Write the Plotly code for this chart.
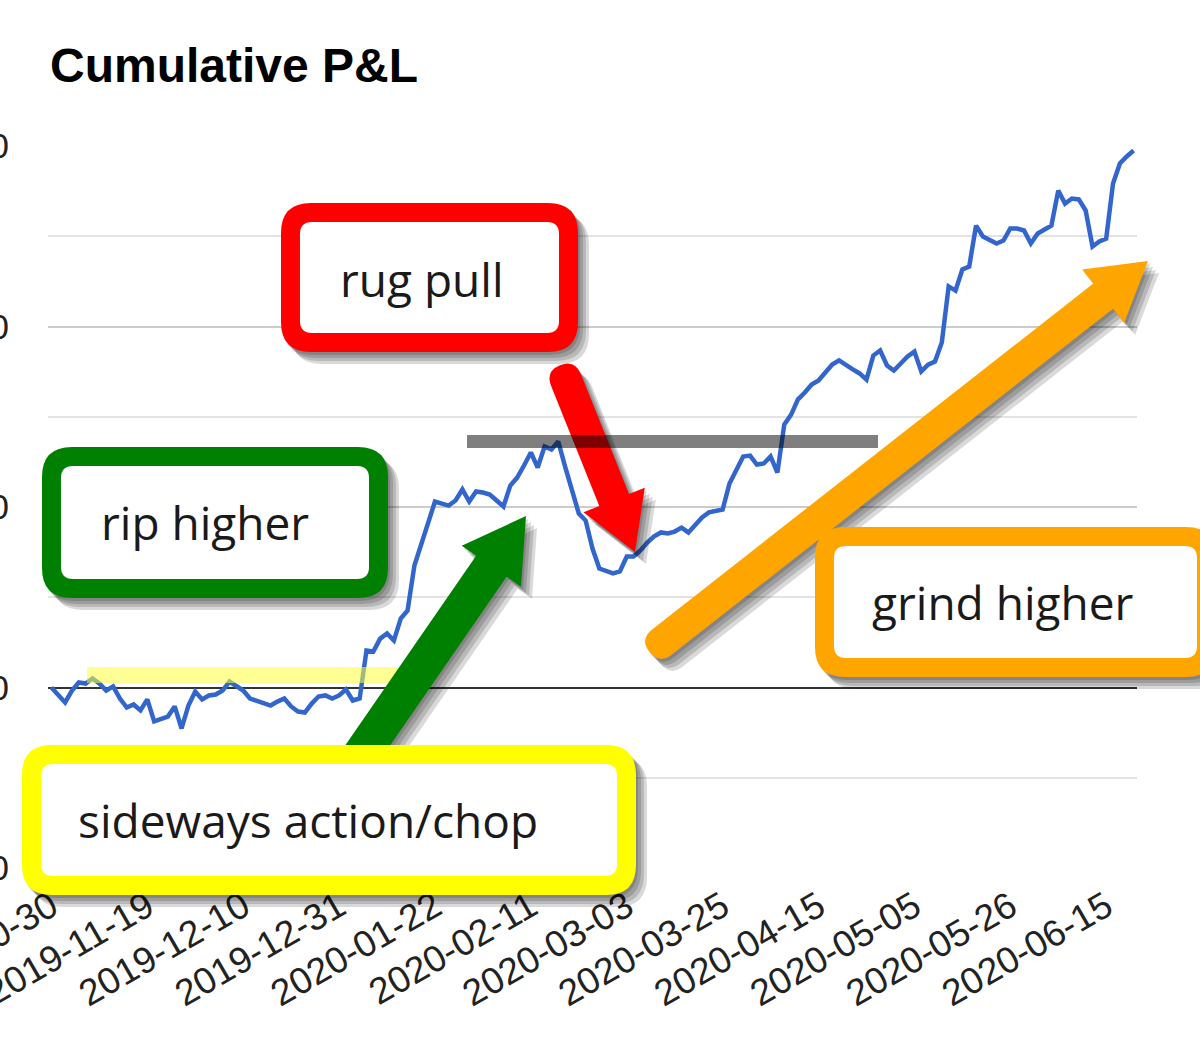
import math
import pandas as pd
import plotly.graph_objects as go

# ---------------- data ----------------
skip_days = ['2019-11-28', '2019-12-25', '2020-01-01', '2020-01-20', '2020-02-17',
             '2020-03-09', '2020-03-16', '2020-04-10', '2020-05-25']
dates = pd.bdate_range('2019-10-30', '2020-07-10', freq='C',
                       holidays=skip_days).strftime('%Y-%m-%d').tolist()[:159]

pnl = [0, -44, -83, -17, 28, 22, 50, 22, -17, 6,
       -61, -111, -94, -127, -66, -188, -172, -161, -105, -227,
       -100, -22, -66, -44, -39, -17, 33, 6, -17, -61,
       -72, -83, -100, -78, -61, -105, -133, -139, -89, -50,
       -44, -61, -44, -11, -72, -61, 205, 199, 271, 299,
       260, 382, 427, 676, 798, 909, 1030, 1019, 1008, 1036,
       1097, 1030, 1086, 1080, 1069, 1036, 1003, 1119, 1163, 1230,
       1302, 1219, 1335, 1319, 1363, 1224, 1086, 964, 925, 770,
       659, 643, 632, 643, 726, 726, 759, 803, 837, 859,
       853, 864, 886, 859, 903, 942, 970, 981, 986, 1130,
       1208, 1280, 1285, 1235, 1241, 1280, 1191, 1457, 1512, 1596,
       1634, 1679, 1701, 1745, 1789, 1812, 1784, 1762, 1740, 1706,
       1839, 1867, 1784, 1756, 1795, 1834, 1861, 1751, 1789, 1806,
       1911, 2222, 2199, 2316, 2332, 2559, 2499, 2482, 2460, 2476,
       2543, 2543, 2532, 2460, 2515, 2537, 2559, 2753, 2681, 2709,
       2704, 2643, 2443, 2471, 2487, 2792, 2903, 2942, 2975]

tick_labels = ['2019-10-30', '2019-11-19', '2019-12-10', '2019-12-31', '2020-01-22',
               '2020-02-11', '2020-03-03', '2020-03-25', '2020-04-15', '2020-05-05',
               '2020-05-26', '2020-06-15']

title_text = 'Cumulative P&L'
callouts = ['rug pull', 'rip higher', 'sideways action/chop', 'grind higher']

# ---------------- layout geometry (pixels) ----------------
W, H = 1200, 1040
L, R, T, B = 48, 1137, 146, 868


def px(x):
    return (x - L) / (R - L)


def py(y):
    return (B - y) / (B - T)


def P(x, y):
    return f'{px(x):.5f},{py(y):.5f}'


def rrect(x0, y0, x1, y1, r):
    return (f'M {P(x0 + r, y0)} L {P(x1 - r, y0)} Q {P(x1, y0)} {P(x1, y0 + r)} '
            f'L {P(x1, y1 - r)} Q {P(x1, y1)} {P(x1 - r, y1)} '
            f'L {P(x0 + r, y1)} Q {P(x0, y1)} {P(x0, y1 - r)} '
            f'L {P(x0, y0 + r)} Q {P(x0, y0)} {P(x0 + r, y0)} Z')


def arrow(S, Tp, w, hl, hw):
    dx, dy = Tp[0] - S[0], Tp[1] - S[1]
    d = math.hypot(dx, dy)
    ux, uy = dx / d, dy / d
    nx, ny = -uy, ux
    bx, by = Tp[0] - hl * ux, Tp[1] - hl * uy
    a1 = (S[0] + nx * w / 2, S[1] + ny * w / 2)
    a2 = (bx + nx * w / 2, by + ny * w / 2)
    a3 = (bx + nx * hw / 2, by + ny * hw / 2)
    a5 = (bx - nx * hw / 2, by - ny * hw / 2)
    a6 = (bx - nx * w / 2, by - ny * w / 2)
    a7 = (S[0] - nx * w / 2, S[1] - ny * w / 2)
    c1 = (a7[0] - ux * w / 2, a7[1] - uy * w / 2)
    p = (S[0] - ux * w / 2, S[1] - uy * w / 2)
    c2 = (a1[0] - ux * w / 2, a1[1] - uy * w / 2)
    pts = [a1, a2, a3, Tp, a5, a6, a7]
    s = 'M ' + ' L '.join(P(*q) for q in pts)
    s += f' Q {P(*c1)} {P(*p)} Q {P(*c2)} {P(*a1)} Z'
    return s


shapes = []


def add(path, color, shadow=True):
    if shadow:
        for k, (ox, oy) in enumerate([(2, 3), (5, 6), (8, 9), (11, 12)]):
            shapes.append(dict(type='path', xref='paper', yref='paper', layer='above',
                               path=path(ox, oy), fillcolor='rgba(0,0,0,0.15)',
                               line=dict(width=0)))
    shapes.append(dict(type='path', xref='paper', yref='paper', layer='above',
                       path=path(0, 0), fillcolor=color, line=dict(width=0)))


def box(x0, y0, x1, y1, color, bw=19):
    add(lambda ox, oy: rrect(x0 + ox, y0 + oy, x1 + ox, y1 + oy, 30), color)
    add(lambda ox, oy: rrect(x0 + bw, y0 + bw, x1 - bw, y1 - bw, 12), 'white', shadow=False)


def arr(S, Tp, w, hl, hw, color):
    add(lambda ox, oy: arrow((S[0] + ox, S[1] + oy), (Tp[0] + ox, Tp[1] + oy), w, hl, hw), color)


# yellow highlight band
shapes.append(dict(type='rect', xref='paper', yref='paper', layer='above',
                   x0=px(87), x1=px(398), y0=py(683), y1=py(667),
                   fillcolor='rgba(255,255,60,0.55)', line=dict(width=0)))
# red arrow
arr((566, 380), (635, 552), 32, 56, 66, '#ff0000')
# gray bar
shapes.append(dict(type='rect', xref='paper', yref='paper', layer='above',
                   x0=px(467), x1=px(878), y0=py(448), y1=py(435),
                   fillcolor='rgba(0,0,0,0.5)', line=dict(width=0)))
# red box
box(281, 203, 578, 352, '#ff0000')
# green arrow
arr((330, 800), (526, 516), 37, 61, 72, '#008000')
# green box
box(42, 447, 388, 598, '#008000')
# yellow box
box(22, 745, 636, 895, '#ffff00')
# orange arrow
arr((662, 642), (1148, 261), 32, 57, 68, '#ffa500')
# orange box
box(815, 527, 1216, 677, '#ffa500')

annotations = [
    dict(text='<b>' + title_text + '</b>', xref='paper', yref='paper', x=px(48), y=py(66),
         xanchor='left', yanchor='middle', showarrow=False,
         font=dict(family='Liberation Sans, Arial', size=48, color='#000000')),
]
text_pos = [(422, 279), (205, 522), (308, 820), (1003, 602)]
for t, (cx, cy) in zip(callouts, text_pos):
    annotations.append(dict(text=t, xref='paper', yref='paper', x=px(cx), y=py(cy),
                            xanchor='center', yanchor='middle', showarrow=False,
                            font=dict(family='Open Sans', size=46, color='#1a1a1a')))

fig = go.Figure()
fig.add_trace(go.Scatter(x=dates, y=pnl, mode='lines',
                         line=dict(color='#3366cc', width=4.5), hoverinfo='skip'))

fig.update_layout(
    width=W, height=H,
    margin=dict(l=L, r=W - R, t=T, b=H - B, pad=0),
    paper_bgcolor='white', plot_bgcolor='white',
    showlegend=False,
    shapes=shapes,
    annotations=annotations,
    xaxis=dict(type='category', range=[-0.5, len(dates) - 0.5],
               tickmode='array', tickvals=tick_labels, ticktext=tick_labels,
               tickangle=-30, ticks='', showgrid=False, showline=False, zeroline=False,
               tickfont=dict(family='Liberation Sans, Arial', size=37, color='#222222'),
               ticklabelstandoff=9, automargin=False),
    yaxis=dict(range=[-1000, 3000], tick0=0, dtick=1000, ticks='',
               showgrid=True, gridcolor='#cccccc', gridwidth=2,
               minor=dict(dtick=500, showgrid=True, gridcolor='#e3e3e3', gridwidth=2),
               zeroline=True, zerolinecolor='#333333', zerolinewidth=2,
               showline=False,
               tickfont=dict(family='Liberation Sans, Arial', size=35, color='#222222'),
               ticklabelstandoff=38, automargin=False),
)

fig.write_html('out.html')
